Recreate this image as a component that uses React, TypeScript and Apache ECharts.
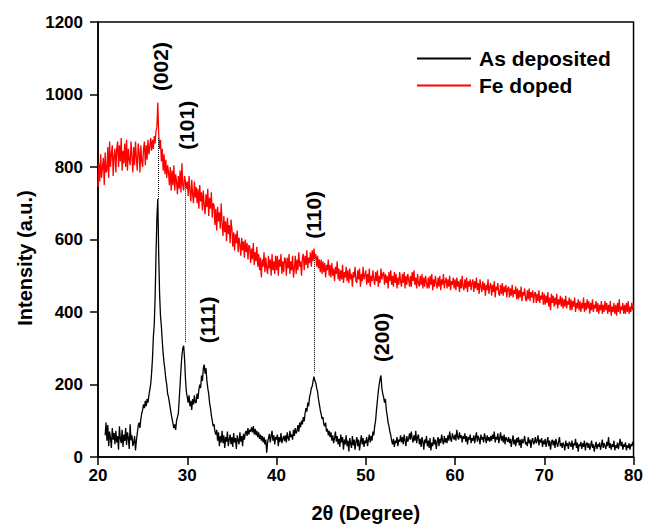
import React, { useEffect, useRef } from "react";
import * as echarts from "echarts";

// 2θ sampling of the two scans
const asDepositedStart = 20.8;
const feDopedStart = 20.0;
const stepDeg = 0.1;

// As deposited intensities (a.u.), one row per degree, from 20.8°
const asDeposited: number[] = [
  60, 95,
  45, 88, 30, 70, 52, 25, 80, 48, 66, 35,
  72, 40, 58, 20, 85, 50, 38, 75, 28, 62,
  44, 80, 33, 68, 52, 22, 90, 46, 60, 30,
  40, 58, 18, 45, 65, 85, 95, 80, 105, 120,
  130, 145, 135, 155, 140, 160, 150, 170, 185, 200,
  230, 270, 330, 365, 440, 560, 660, 712, 560, 450,
  390, 360, 320, 285, 260, 240, 215, 200, 175, 165,
  150, 135, 118, 105, 92, 80, 90, 75, 100, 110,
  120, 160, 200, 245, 280, 300, 307, 270, 215, 180,
  165, 150, 170, 140, 155, 130, 160, 145, 170, 150,
  150, 175, 160, 185, 200, 190, 225, 210, 245, 255,
  230, 245, 210, 190, 175, 150, 135, 115, 100, 85,
  90, 70, 62, 75, 45, 68, 30, 58, 40, 72,
  38, 60, 25, 55, 42, 70, 30, 48, 62, 35,
  55, 28, 66, 40, 52, 22, 60, 45, 35, 68,
  42, 58, 30, 64, 48, 66, 72, 58, 80, 62,
  75, 70, 82, 68, 85, 62, 78, 60, 72, 55,
  68, 50, 62, 45, 58, 40, 55, 35, 48, 12,
  40, 52, 64, 40, 58, 72, 45, 60, 35, 55,
  48, 62, 30, 55, 42, 66, 38, 50, 58, 44,
  60, 40, 68, 52, 45, 72, 55, 62, 48, 75,
  58, 80, 65, 72, 88, 70, 95, 82, 100, 90,
  110, 98, 120, 135, 125, 150, 140, 165, 175, 190,
  195, 210, 222, 210, 205, 190, 180, 160, 145, 130,
  118, 105, 110, 90, 85, 95, 70, 78, 60, 72,
  55, 68, 45, 60, 38, 52, 70, 42, 58, 35,
  50, 28, 62, 40, 55, 20, 48, 35, 60, 30,
  45, 15, 52, 38, 25, 58, 32, 48, 20, 42,
  55, 30, 48, 18, 40, 60, 35, 52, 28, 45,
  38, 55, 30, 48, 62, 40, 58, 45, 70, 60,
  85, 100, 130, 155, 180, 200, 215, 225, 190, 175,
  165, 150, 160, 130, 115, 95, 85, 70, 60, 45,
  35, 50, 28, 45, 38, 55, 30, 48, 42, 60,
  40, 55, 35, 62, 45, 30, 58, 42, 50, 65,
  48, 70, 52, 40, 60, 45, 72, 38, 55, 62,
  35, 50, 28, 55, 42, 20, 48, 38, 58, 30,
  45, 25, 52, 18, 40, 30, 55, 35, 48, 22,
  42, 55, 30, 50, 38, 62, 45, 35, 58, 40,
  52, 38, 60, 45, 70, 50, 42, 65, 55, 48,
  62, 45, 75, 55, 48, 68, 52, 60, 40, 58,
  50, 65, 42, 58, 35, 55, 48, 62, 38, 52,
  45, 60, 38, 55, 68, 42, 58, 50, 35, 62,
  48, 55, 40, 65, 52, 38, 60, 45, 55, 42,
  58, 45, 62, 50, 70, 40, 55, 48, 65, 38,
  52, 68, 45, 58, 40, 62, 35, 55, 48, 42,
  55, 38, 50, 28, 45, 60, 35, 48, 30, 52,
  40, 55, 32, 48, 25, 50, 38, 45, 58, 35,
  42, 30, 55, 38, 48, 25, 45, 52, 35, 40,
  55, 38, 45, 60, 32, 48, 40, 52, 28, 45,
  35, 50, 28, 42, 55, 30, 45, 20, 40, 48,
  32, 45, 25, 50, 38, 28, 42, 55, 30, 38,
  25, 40, 32, 18, 45, 30, 38, 22, 42, 35,
  28, 45, 20, 38, 32, 50, 25, 40, 15, 35,
  30, 42, 22, 38, 28, 45, 18, 35, 40, 25,
  38, 20, 32, 45, 25, 35, 15, 30, 42, 22,
  35, 28, 40, 20, 32, 48, 25, 38, 30, 22,
  42, 30, 55, 25, 38, 20, 35, 28, 45, 18,
  32, 25, 40, 22, 35, 50, 30, 42, 20, 35,
  28, 40, 18, 32, 25, 38, 20, 35, 30, 42,
  30,
];

// Fe doped intensities (a.u.), one row per degree, from 20.0°
const feDoped: number[] = [
  745, 810, 760, 835, 770, 800, 825, 750, 840, 785,
  790, 855, 770, 870, 800, 835, 860, 775, 830, 850,
  785, 850, 870, 800, 860, 815, 880, 790, 845, 810,
  865, 800, 875, 790, 850, 820, 805, 870, 830, 785,
  855, 805, 870, 825, 790, 865, 840, 785, 860, 815,
  800, 850, 870, 805, 860, 820, 875, 835, 855, 880,
  845, 875, 850, 885, 865, 900, 910, 978, 890, 850,
  875, 815, 850, 790, 835, 780, 820, 770, 805, 785,
  750, 800, 735, 790, 750, 805, 735, 780, 760, 725,
  775, 740, 790, 730, 810, 750, 735, 775, 760, 740,
  760, 720, 775, 735, 705, 765, 725, 700, 760, 715,
  745, 700, 740, 685, 750, 705, 730, 680, 735, 695,
  670, 725, 690, 740, 665, 715, 685, 730, 660, 700,
  695, 640, 685, 625, 690, 650, 675, 630, 700, 645,
  610, 665, 620, 650, 595, 660, 615, 640, 590, 655,
  630, 580, 620, 570, 615, 590, 625, 565, 605, 585,
  555, 605, 570, 595, 550, 600, 565, 590, 545, 585,
  580, 535, 575, 545, 590, 530, 565, 540, 580, 525,
  560, 515, 550, 495, 545, 525, 565, 510, 550, 520,
  505, 555, 520, 545, 500, 560, 515, 540, 505, 555,
  515, 555, 500, 545, 525, 560, 505, 540, 510, 550,
  545, 500, 550, 520, 560, 505, 540, 515, 555, 495,
  520, 555, 505, 545, 515, 565, 525, 540, 500, 550,
  560, 515, 555, 530, 570, 520, 550, 535, 565, 525,
  570, 540, 575, 545, 560, 525, 555, 520, 545, 510,
  545, 505, 540, 510, 535, 495, 530, 515, 545, 500,
  530, 495, 535, 500, 520, 485, 525, 505, 540, 490,
  520, 485, 515, 490, 530, 480, 510, 495, 525, 485,
  515, 480, 520, 490, 505, 470, 510, 495, 525, 485,
  480, 515, 490, 520, 470, 505, 485, 525, 490, 500,
  515, 475, 505, 480, 520, 470, 500, 485, 515, 490,
  475, 510, 485, 515, 470, 500, 480, 520, 490, 505,
  510, 475, 505, 480, 500, 465, 510, 485, 515, 475,
  500, 470, 510, 480, 505, 465, 495, 475, 510, 485,
  470, 505, 480, 510, 465, 500, 475, 505, 490, 470,
  500, 470, 510, 485, 515, 475, 495, 465, 505, 480,
  470, 500, 475, 505, 465, 495, 470, 500, 480, 465,
  495, 465, 500, 475, 505, 460, 490, 470, 500, 480,
  465, 495, 470, 500, 460, 490, 475, 505, 465, 485,
  495, 465, 490, 470, 500, 460, 485, 475, 495, 465,
  490, 460, 495, 470, 485, 455, 490, 465, 500, 470,
  460, 490, 465, 495, 455, 485, 470, 490, 460, 480,
  490, 455, 485, 465, 495, 460, 480, 450, 490, 470,
  455, 485, 460, 480, 445, 475, 460, 490, 450, 470,
  480, 445, 475, 455, 485, 440, 470, 460, 480, 450,
  445, 475, 450, 480, 445, 470, 455, 475, 440, 465,
  470, 440, 465, 445, 475, 440, 460, 450, 470, 435,
  465, 435, 460, 440, 470, 430, 455, 445, 465, 435,
  430, 460, 435, 465, 430, 455, 440, 460, 425, 450,
  455, 425, 450, 430, 460, 425, 445, 435, 455, 420,
  450, 420, 445, 425, 455, 415, 440, 405, 450, 425,
  445, 415, 440, 420, 450, 410, 435, 420, 445, 415,
  440, 410, 435, 415, 445, 410, 430, 420, 440, 405,
  435, 405, 430, 415, 440, 400, 425, 410, 435, 405,
  430, 400, 425, 410, 440, 400, 425, 405, 435, 410,
  430, 395, 425, 405, 435, 400, 420, 410, 430, 400,
  425, 395, 420, 405, 430, 395, 420, 400, 430, 405,
  425, 395, 420, 400, 430, 390, 415, 400, 425, 395,
  420, 390, 425, 400, 435, 395, 415, 405, 425, 395,
  420, 395, 425, 400, 430, 395, 415, 400, 425, 405,
  420,
];

// Peak labels (hkl) and where they sit
const peakLabels = ["(002)", "(101)", "(111)", "(110)", "(200)"];
const peakLabelX = [26.95, 29.95, 32.25, 44.15, 51.8];
const peakLabelY = [1077, 915, 378, 668, 330];

// Dotted guide lines joining the two patterns
const guideX = [26.75, 29.8, 44.2];
const guideTop = [880, 755, 543];
const guideBottom = [712, 315, 233];

const xTicks = { min: 20, max: 80, interval: 10 };
const yTicks = { min: 0, max: 1200, interval: 200 };

const FONT = "'Liberation Sans', Arial, Helvetica, sans-serif";

function toPairs(start: number, values: number[]) {
  return values.map((v, i) => [Math.round((start + i * stepDeg) * 100) / 100, v]);
}

export default function App() {
  const ref = useRef<HTMLDivElement>(null);

  useEffect(() => {
    if (!ref.current) return;
    const chart = echarts.init(ref.current, null, { renderer: "svg" });

    const axisCommon = {
      axisLine: { show: true, lineStyle: { color: "#000", width: 1.5 } },
      axisTick: { show: true, inside: false, length: 8, lineStyle: { color: "#000", width: 1.5 } },
      splitLine: { show: false },
    };

    chart.setOption({
      animation: false,
      backgroundColor: "#fff",
      grid: {
        left: 98,
        right: 9,
        top: 22,
        bottom: 67.5,
        show: true,
        borderColor: "#000",
        borderWidth: 1.5,
        backgroundColor: "transparent",
      },
      legend: {
        orient: "vertical",
        left: 412,
        top: 43,
        icon: "rect",
        itemWidth: 54,
        itemHeight: 2,
        itemGap: 6,
        data: ["As deposited", "Fe doped"],
        textStyle: {
          fontFamily: FONT,
          fontWeight: "bold",
          fontSize: 21,
          color: "#000",
          padding: [0, 0, 0, 3],
        },
      },
      xAxis: {
        type: "value",
        min: xTicks.min,
        max: xTicks.max,
        interval: xTicks.interval,
        ...axisCommon,
        axisLabel: {
          margin: 10,
          fontFamily: FONT,
          fontWeight: "bold",
          fontSize: 17,
          color: "#000",
          formatter: (v: number) => String(v),
        },
        name: "2θ (Degree)",
        nameLocation: "middle",
        nameGap: 46,
        nameTextStyle: {
          fontFamily: FONT,
          fontWeight: "bold",
          fontSize: 20,
          color: "#000",
        },
      },
      yAxis: {
        type: "value",
        min: yTicks.min,
        max: yTicks.max,
        interval: yTicks.interval,
        ...axisCommon,
        axisLabel: {
          margin: 15,
          fontFamily: FONT,
          fontWeight: "bold",
          fontSize: 17,
          color: "#000",
          formatter: (v: number) => String(v),
        },
      },
      graphic: [
        {
          type: "text",
          x: 25,
          y: 258,
          rotation: Math.PI / 2,
          style: {
            text: "Intensity (a.u.)",
            fontFamily: FONT,
            fontWeight: "bold",
            fontSize: 20,
            fill: "#000",
            textAlign: "center",
            textVerticalAlign: "middle",
          },
        },
      ],
      series: [
        {
          name: "As deposited",
          type: "line",
          data: toPairs(asDepositedStart, asDeposited),
          symbol: "none",
          showSymbol: false,
          lineStyle: { color: "#000", width: 1.3 },
          itemStyle: { color: "#000" },
          z: 3,
          markLine: {
            silent: true,
            symbol: "none",
            label: { show: false },
            lineStyle: { color: "#000", width: 1, type: "dotted" },
            data: guideX.map((x, i) => [
              { coord: [x, guideTop[i]] },
              { coord: [x, guideBottom[i]] },
            ]),
          },
        },
        {
          name: "Fe doped",
          type: "line",
          data: toPairs(feDopedStart, feDoped),
          symbol: "none",
          showSymbol: false,
          lineStyle: { color: "#ff0000", width: 1.3 },
          itemStyle: { color: "#ff0000" },
          z: 2,
        },
        {
          name: "peaks",
          type: "scatter",
          silent: true,
          symbolSize: 1,
          itemStyle: { color: "#000", opacity: 0 },
          data: peakLabelX.map((x, i) => ({
            value: [x, peakLabelY[i]],
            label: { formatter: peakLabels[i] },
          })),
          label: {
            show: true,
            position: [0.5, 0.5],
            rotate: 90,
            align: "center",
            verticalAlign: "middle",
            fontFamily: FONT,
            fontWeight: "bold",
            fontSize: 21,
            color: "#000",
            textBorderWidth: 0,
            opacity: 1,
          },
          z: 5,
        },
      ],
    });

    return () => chart.dispose();
  }, []);

  return (
    <div
      ref={ref}
      style={{ position: "absolute", left: 0, top: 0, width: 646, height: 528 }}
    />
  );
}
